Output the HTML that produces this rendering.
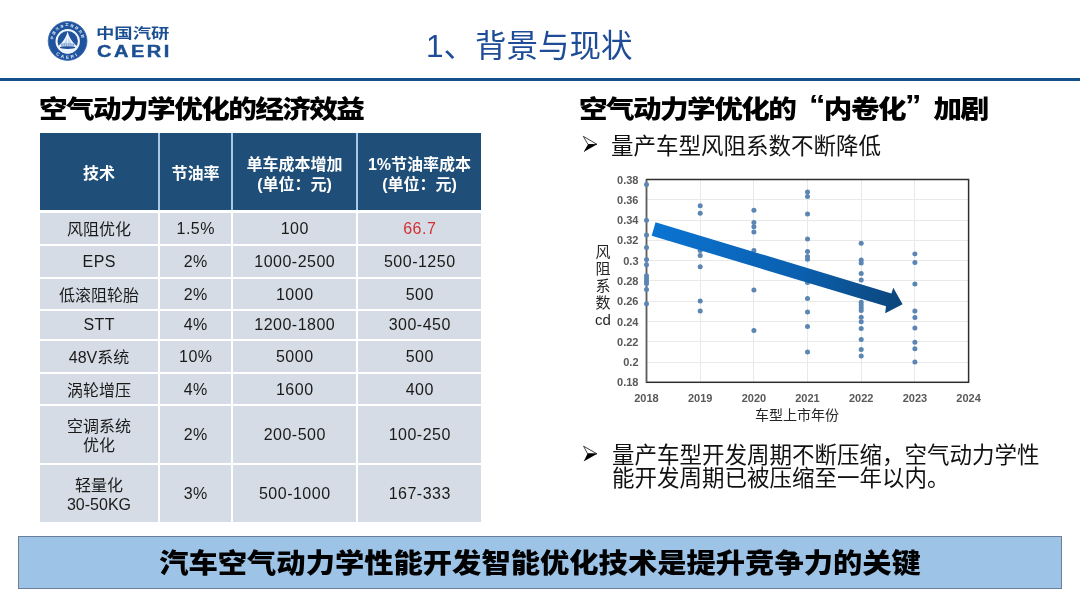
<!DOCTYPE html>
<html lang="zh-CN">
<head>
<meta charset="utf-8">
<title>背景与现状</title>
<style>
*{margin:0;padding:0;box-sizing:border-box;}
html,body{width:1080px;height:608px;overflow:hidden;background:#fff;}
body{position:relative;font-family:"Liberation Sans","Noto Sans CJK SC",sans-serif;color:#000;}
.abs{position:absolute;white-space:nowrap;}
.title{left:426px;top:26px;font-size:31.5px;line-height:40px;color:#1e4c96;}
.rule{left:0;top:78px;width:1080px;height:3px;background:#145089;}
.h2{font-size:27px;line-height:32px;font-weight:900;color:#000;letter-spacing:-1.5px;transform:scale(1.06,0.94);transform-origin:0 0;}
.ql,.qr{display:inline-block;width:27px;line-height:0;font-size:31px;position:relative;top:-3px;}
.ql{text-align:right;}
.qr{text-align:left;}
.logo-cn{left:96px;top:25px;font-size:13.5px;line-height:18px;font-weight:bold;color:#1b4f92;transform:scaleX(1.36);transform-origin:0 0;}
.logo-en{left:97px;top:44px;font-size:16px;line-height:16px;font-weight:bold;color:#1b4f92;letter-spacing:2px;-webkit-text-stroke:0.4px #1b4f92;transform:scaleX(1.25);transform-origin:0 0;}
table{position:absolute;left:40px;top:133px;border-collapse:collapse;table-layout:fixed;width:441px;}
td,th{text-align:center;vertical-align:middle;font-size:16px;line-height:19px;padding:0;}
th{background:#1f4e79;color:#fff;font-weight:bold;height:78px;border-left:2px solid #a9c8e6;line-height:20px;padding-top:7px;}
th.s{padding-top:6px;}
th:first-child{border-left:none;}
td{background:#d6dce5;color:#1a1a1a;font-weight:400;border-top:2px solid #fff;border-left:2px solid #fff;padding-top:3px;}
td:first-child{border-left:none;}
tr.r1 td{border-top-width:3px;}
td.n{padding-top:1px;padding-bottom:1px;letter-spacing:0.5px;text-indent:0.5px;}
.bullet{font-size:22.5px;line-height:23px;color:#111;}
.arr{font-size:18px;}
.banner{left:18px;top:536px;width:1044px;height:53px;background:#9dc3e6;border:1px solid #6b7f99;text-align:center;font-size:29.3px;line-height:53.4px;font-weight:900;color:#000;}
.banner span{display:inline-block;transform:scaleY(0.935);}
</style>
</head>
<body>
<!-- logo -->
<svg class="abs" style="left:0;top:0" width="180" height="75" viewBox="0 0 180 75">
  <defs>
    <path id="arcT" d="M53.06 39.73 A14.6 14.6 0 0 1 82.14 39.73"/>
    <path id="arcB" d="M52.2 49.9 A17.8 17.8 0 0 0 83 49.9"/>
  </defs>
  <circle cx="67.6" cy="41" r="19.4" fill="#1f539e"/>
  <circle cx="67.6" cy="41" r="19.4" fill="none" stroke="#3a6cb0" stroke-width="0.8"/>
  <text font-family="Liberation Sans,Noto Sans CJK SC,sans-serif" font-size="3.3" letter-spacing="1.45" font-weight="bold" fill="#e8f0fa"><textPath href="#arcT" startOffset="50%" text-anchor="middle">中国汽车工程研究院</textPath></text>
  <text font-family="Liberation Sans,sans-serif" font-size="4.6" font-weight="bold" fill="#e8f0fa" letter-spacing="2.2"><textPath href="#arcB" startOffset="50%" text-anchor="middle">CAERI</textPath></text>
  <circle cx="67.7" cy="41.3" r="11.2" fill="#1f539e" stroke="#f4f8fc" stroke-width="2"/>
  <path d="M67.6 31 C66.6 37 63 42 57.8 46.5 A10.2 10.2 0 0 0 77.4 46.5 C72.2 42 68.6 37 67.6 31 Z" fill="#eef4fb"/>
  <path d="M67.6 34 C67 38.5 65.5 41.5 63.5 44 L71.7 44 C69.7 41.5 68.2 38.5 67.6 34 Z" fill="#bcd3ee"/><path d="M67.6 33 V44" stroke="#fff" stroke-width="0.9"/>
  <rect x="61" y="43.6" width="13.2" height="2.6" fill="#6d93c9"/>
  <path d="M62 44 v2 M63.8 44 v2 M65.6 44 v2 M67.4 44 v2 M69.2 44 v2 M71 44 v2 M72.8 44 v2" stroke="#f2f6fb" stroke-width="0.7"/>
  <ellipse cx="67.6" cy="47.6" rx="7.8" ry="1.4" fill="#1e4f98"/>
</svg>
<div class="abs logo-cn">中国汽研</div>
<div class="abs logo-en">CAERI</div>

<div class="abs title">1、背景与现状</div>
<div class="abs rule"></div>

<div class="abs h2" style="left:39px;top:94px;">空气动力学优化的经济效益</div>

<table>
<colgroup><col style="width:119px"><col style="width:73px"><col style="width:125px"><col style="width:124px"></colgroup>
<tr><th class="s">技术</th><th class="s">节油率</th><th>单车成本增加<br>(单位：元)</th><th>1%节油率成本<br>(单位：元)</th></tr>
<tr style="height:34px" class="r1"><td>风阻优化</td><td class="n">1.5%</td><td class="n">100</td><td class="n" style="color:#d42f33">66.7</td></tr>
<tr style="height:33px"><td class="n">EPS</td><td class="n">2%</td><td class="n">1000-2500</td><td class="n">500-1250</td></tr>
<tr style="height:32px"><td>低滚阻轮胎</td><td class="n">2%</td><td class="n">1000</td><td class="n">500</td></tr>
<tr style="height:29.5px"><td class="n">STT</td><td class="n">4%</td><td class="n">1200-1800</td><td class="n">300-450</td></tr>
<tr style="height:33.5px"><td>48V系统</td><td class="n">10%</td><td class="n">5000</td><td class="n">500</td></tr>
<tr style="height:32px"><td>涡轮增压</td><td class="n">4%</td><td class="n">1600</td><td class="n">400</td></tr>
<tr style="height:59px"><td>空调系统<br>优化</td><td class="n">2%</td><td class="n">200-500</td><td class="n">100-250</td></tr>
<tr style="height:58px"><td>轻量化<br>30-50KG</td><td class="n">3%</td><td class="n">500-1000</td><td class="n">167-333</td></tr>
</table>

<div class="abs h2" style="left:579px;top:94px;">空气动力学优化的<span class="ql">“</span>内卷化<span class="qr">”</span>加剧</div>
<svg class="abs" style="left:582px;top:135px" width="17" height="18" viewBox="0 0 17 18"><path d="M1.3 1.3 L15 9.3 L6.1 9.6 Z" fill="#fff" stroke="#222" stroke-width="0.85" stroke-linejoin="round"/><path d="M6.1 9.3 L15.2 9.3 L1.6 16.9 Z" fill="#000"/></svg>
<div class="abs bullet" style="left:611px;top:134.5px;">量产车型风阻系数不断降低</div>

<svg id="chart" class="abs" style="left:0;top:0" width="1080" height="608" viewBox="0 0 1080 608">
<style>.tk{font-family:"Liberation Sans","Noto Sans CJK SC",sans-serif;font-size:11px;font-weight:bold;fill:#595959;} .ax{font-family:"Liberation Sans","Noto Sans CJK SC",sans-serif;font-size:15px;fill:#262626;}</style>
<line x1="646.5" y1="199.5" x2="968.6" y2="199.5" stroke="#e9e9e9" stroke-width="1"/>
<line x1="646.5" y1="220.5" x2="968.6" y2="220.5" stroke="#e9e9e9" stroke-width="1"/>
<line x1="646.5" y1="240.5" x2="968.6" y2="240.5" stroke="#e9e9e9" stroke-width="1"/>
<line x1="646.5" y1="260.5" x2="968.6" y2="260.5" stroke="#e9e9e9" stroke-width="1"/>
<line x1="646.5" y1="280.5" x2="968.6" y2="280.5" stroke="#e9e9e9" stroke-width="1"/>
<line x1="646.5" y1="301.5" x2="968.6" y2="301.5" stroke="#e9e9e9" stroke-width="1"/>
<line x1="646.5" y1="321.5" x2="968.6" y2="321.5" stroke="#e9e9e9" stroke-width="1"/>
<line x1="646.5" y1="341.5" x2="968.6" y2="341.5" stroke="#e9e9e9" stroke-width="1"/>
<line x1="646.5" y1="362.5" x2="968.6" y2="362.5" stroke="#e9e9e9" stroke-width="1"/>
<line x1="700.5" y1="179.5" x2="700.5" y2="382.3" stroke="#e9e9e9" stroke-width="1"/>
<line x1="753.5" y1="179.5" x2="753.5" y2="382.3" stroke="#e9e9e9" stroke-width="1"/>
<line x1="807.5" y1="179.5" x2="807.5" y2="382.3" stroke="#e9e9e9" stroke-width="1"/>
<line x1="861.5" y1="179.5" x2="861.5" y2="382.3" stroke="#e9e9e9" stroke-width="1"/>
<line x1="914.5" y1="179.5" x2="914.5" y2="382.3" stroke="#e9e9e9" stroke-width="1"/>
<rect x="646.5" y="179.5" width="322.1" height="202.8" fill="none" stroke="#2e2e2e" stroke-width="1.5"/>
<line x1="646.5" y1="179.5" x2="646.5" y2="382.3" stroke="#5e5e5e" stroke-width="1.3"/>
<circle cx="646.5" cy="184.6" r="2.5" fill="#5b86b3"/>
<circle cx="646.5" cy="220.2" r="2.5" fill="#5b86b3"/>
<circle cx="646.5" cy="235.0" r="2.5" fill="#5b86b3"/>
<circle cx="646.5" cy="247.4" r="2.5" fill="#5b86b3"/>
<circle cx="646.5" cy="259.5" r="2.5" fill="#5b86b3"/>
<circle cx="646.5" cy="264.7" r="2.5" fill="#5b86b3"/>
<circle cx="646.5" cy="275.8" r="2.5" fill="#5b86b3"/>
<circle cx="646.5" cy="278.6" r="2.5" fill="#5b86b3"/>
<circle cx="646.5" cy="281.2" r="2.5" fill="#5b86b3"/>
<circle cx="646.5" cy="283.6" r="2.5" fill="#5b86b3"/>
<circle cx="646.5" cy="289.5" r="2.5" fill="#5b86b3"/>
<circle cx="646.5" cy="303.8" r="2.5" fill="#5b86b3"/>
<circle cx="700.2" cy="205.7" r="2.5" fill="#5b86b3"/>
<circle cx="700.2" cy="213.2" r="2.5" fill="#5b86b3"/>
<circle cx="700.2" cy="250.5" r="2.5" fill="#5b86b3"/>
<circle cx="700.2" cy="255.5" r="2.5" fill="#5b86b3"/>
<circle cx="700.2" cy="266.7" r="2.5" fill="#5b86b3"/>
<circle cx="700.2" cy="300.9" r="2.5" fill="#5b86b3"/>
<circle cx="700.2" cy="311.1" r="2.5" fill="#5b86b3"/>
<circle cx="753.9" cy="210.3" r="2.5" fill="#5b86b3"/>
<circle cx="753.9" cy="222.6" r="2.5" fill="#5b86b3"/>
<circle cx="753.9" cy="226.8" r="2.5" fill="#5b86b3"/>
<circle cx="753.9" cy="232.0" r="2.5" fill="#5b86b3"/>
<circle cx="753.9" cy="250.6" r="2.5" fill="#5b86b3"/>
<circle cx="753.9" cy="290.0" r="2.5" fill="#5b86b3"/>
<circle cx="753.9" cy="330.6" r="2.5" fill="#5b86b3"/>
<circle cx="807.5" cy="191.9" r="2.5" fill="#5b86b3"/>
<circle cx="807.5" cy="196.6" r="2.5" fill="#5b86b3"/>
<circle cx="807.5" cy="214.1" r="2.5" fill="#5b86b3"/>
<circle cx="807.5" cy="239.0" r="2.5" fill="#5b86b3"/>
<circle cx="807.5" cy="251.4" r="2.5" fill="#5b86b3"/>
<circle cx="807.5" cy="256.6" r="2.5" fill="#5b86b3"/>
<circle cx="807.5" cy="259.3" r="2.5" fill="#5b86b3"/>
<circle cx="807.5" cy="282.6" r="2.5" fill="#5b86b3"/>
<circle cx="807.5" cy="298.4" r="2.5" fill="#5b86b3"/>
<circle cx="807.5" cy="312.0" r="2.5" fill="#5b86b3"/>
<circle cx="807.5" cy="326.6" r="2.5" fill="#5b86b3"/>
<circle cx="807.5" cy="352.0" r="2.5" fill="#5b86b3"/>
<circle cx="861.2" cy="243.3" r="2.5" fill="#5b86b3"/>
<circle cx="861.2" cy="260.1" r="2.5" fill="#5b86b3"/>
<circle cx="861.2" cy="263.1" r="2.5" fill="#5b86b3"/>
<circle cx="861.2" cy="273.5" r="2.5" fill="#5b86b3"/>
<circle cx="861.2" cy="279.9" r="2.5" fill="#5b86b3"/>
<circle cx="861.2" cy="292.0" r="2.5" fill="#5b86b3"/>
<circle cx="861.2" cy="302.2" r="2.5" fill="#5b86b3"/>
<circle cx="861.2" cy="305.0" r="2.5" fill="#5b86b3"/>
<circle cx="861.2" cy="307.8" r="2.5" fill="#5b86b3"/>
<circle cx="861.2" cy="310.6" r="2.5" fill="#5b86b3"/>
<circle cx="861.2" cy="317.2" r="2.5" fill="#5b86b3"/>
<circle cx="861.2" cy="321.8" r="2.5" fill="#5b86b3"/>
<circle cx="861.2" cy="328.4" r="2.5" fill="#5b86b3"/>
<circle cx="861.2" cy="339.6" r="2.5" fill="#5b86b3"/>
<circle cx="861.2" cy="349.5" r="2.5" fill="#5b86b3"/>
<circle cx="861.2" cy="356.0" r="2.5" fill="#5b86b3"/>
<circle cx="914.9" cy="253.9" r="2.5" fill="#5b86b3"/>
<circle cx="914.9" cy="262.5" r="2.5" fill="#5b86b3"/>
<circle cx="914.9" cy="283.9" r="2.5" fill="#5b86b3"/>
<circle cx="914.9" cy="311.0" r="2.5" fill="#5b86b3"/>
<circle cx="914.9" cy="317.6" r="2.5" fill="#5b86b3"/>
<circle cx="914.9" cy="328.1" r="2.5" fill="#5b86b3"/>
<circle cx="914.9" cy="342.2" r="2.5" fill="#5b86b3"/>
<circle cx="914.9" cy="348.7" r="2.5" fill="#5b86b3"/>
<circle cx="914.9" cy="361.9" r="2.5" fill="#5b86b3"/>
<defs><linearGradient id="ag" x1="650" y1="229" x2="903" y2="304" gradientUnits="userSpaceOnUse"><stop offset="0" stop-color="#0a74d2"/><stop offset="0.6" stop-color="#0b5fae"/><stop offset="1" stop-color="#0c4579"/></linearGradient></defs>
<path d="M655.5 222.2 L891.4 293.4 L893.3 287.7 L902.6 304.3 L885.2 313.2 L886 306.2 L651.7 235.7 Z" fill="url(#ag)"/>
<text x="638.5" y="183.5" text-anchor="end" class="tk">0.38</text>
<text x="638.5" y="203.8" text-anchor="end" class="tk">0.36</text>
<text x="638.5" y="224.1" text-anchor="end" class="tk">0.34</text>
<text x="638.5" y="244.3" text-anchor="end" class="tk">0.32</text>
<text x="638.5" y="264.6" text-anchor="end" class="tk">0.3</text>
<text x="638.5" y="284.9" text-anchor="end" class="tk">0.28</text>
<text x="638.5" y="305.2" text-anchor="end" class="tk">0.26</text>
<text x="638.5" y="325.5" text-anchor="end" class="tk">0.24</text>
<text x="638.5" y="345.7" text-anchor="end" class="tk">0.22</text>
<text x="638.5" y="366.0" text-anchor="end" class="tk">0.2</text>
<text x="638.5" y="386.3" text-anchor="end" class="tk">0.18</text>
<text x="646.5" y="402" text-anchor="middle" class="tk">2018</text>
<text x="700.2" y="402" text-anchor="middle" class="tk">2019</text>
<text x="753.9" y="402" text-anchor="middle" class="tk">2020</text>
<text x="807.5" y="402" text-anchor="middle" class="tk">2021</text>
<text x="861.2" y="402" text-anchor="middle" class="tk">2022</text>
<text x="914.9" y="402" text-anchor="middle" class="tk">2023</text>
<text x="968.6" y="402" text-anchor="middle" class="tk">2024</text>
<text x="797" y="420" text-anchor="middle" class="ax" style="font-size:14px">车型上市年份</text>
<text x="603" y="257" text-anchor="middle" class="ax">风</text>
<text x="603" y="274" text-anchor="middle" class="ax">阻</text>
<text x="603" y="291" text-anchor="middle" class="ax">系</text>
<text x="603" y="308" text-anchor="middle" class="ax">数</text>
<text x="603" y="325" text-anchor="middle" class="ax">cd</text>

</svg>

<svg class="abs" style="left:582px;top:444.5px" width="17" height="18" viewBox="0 0 17 18"><path d="M1.6 1.2 L15 8.8 L5.6 8.8 Z" fill="#fff" stroke="#222" stroke-width="0.85" stroke-linejoin="round"/><path d="M5.6 8.6 L15.2 8.8 L1.6 16.5 Z" fill="#000"/></svg>
<div class="abs bullet" style="left:612px;top:444px;">量产车型开发周期不断压缩，空气动力学性<br>能开发周期已被压缩至一年以内。</div>

<div class="abs banner"><span>汽车空气动力学性能开发智能优化技术是提升竞争力的关键</span></div>
</body>
</html>
